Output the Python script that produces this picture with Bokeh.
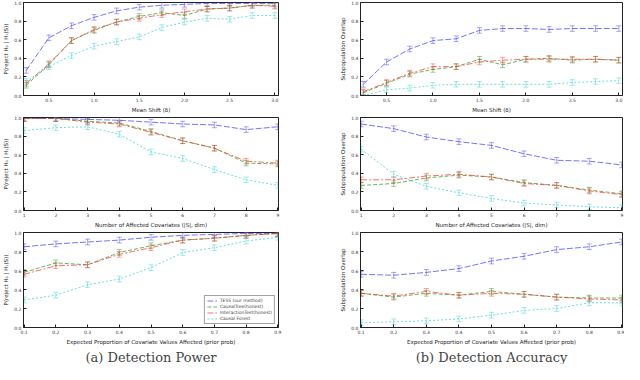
from bokeh.plotting import figure
from bokeh.layouts import column, row
from bokeh.models import ColumnDataSource, Whisker, TeeHead, Legend, LegendItem, FixedTicker, Range1d
from bokeh.embed import file_html
from bokeh.resources import INLINE

# ---------------- data ----------------
SHIFT = [0.25, 0.5, 0.75, 1.0, 1.25, 1.5, 1.75, 2.0, 2.25, 2.5, 2.75, 3.0]
NCOV = [1, 2, 3, 4, 5, 6, 7, 8, 9]
PROP = [0.1, 0.2, 0.3, 0.4, 0.5, 0.6, 0.7, 0.8, 0.9]

SERIES = ["TESS (our method)", "CausalTree(honest)", "InteractionTest(honest)", "Causal Forest"]

power_shift_ours = [0.27, 0.62, 0.75, 0.84, 0.91, 0.95, 0.97, 0.98, 0.99, 0.99, 0.99, 0.99]
power_shift_ctree = [0.11, 0.33, 0.59, 0.70, 0.79, 0.85, 0.89, 0.86, 0.93, 0.94, 0.97, 0.97]
power_shift_itest = [0.13, 0.34, 0.59, 0.71, 0.79, 0.83, 0.87, 0.90, 0.93, 0.94, 0.97, 0.96]
power_shift_cforest = [0.15, 0.31, 0.43, 0.53, 0.58, 0.63, 0.73, 0.79, 0.83, 0.82, 0.86, 0.86]

acc_shift_ours = [0.12, 0.36, 0.50, 0.59, 0.61, 0.70, 0.72, 0.72, 0.71, 0.72, 0.72, 0.72]
acc_shift_ctree = [0.03, 0.13, 0.23, 0.28, 0.31, 0.39, 0.33, 0.39, 0.40, 0.38, 0.39, 0.38]
acc_shift_itest = [0.04, 0.14, 0.24, 0.31, 0.31, 0.36, 0.38, 0.39, 0.39, 0.39, 0.39, 0.38]
acc_shift_cforest = [0.00, 0.06, 0.08, 0.11, 0.12, 0.12, 0.12, 0.12, 0.12, 0.14, 0.15, 0.16]

power_ncov_ours = [0.99, 0.99, 0.98, 0.97, 0.95, 0.93, 0.92, 0.87, 0.90]
power_ncov_ctree = [0.99, 0.99, 0.96, 0.94, 0.85, 0.75, 0.67, 0.51, 0.50]
power_ncov_itest = [0.99, 0.99, 0.95, 0.93, 0.84, 0.75, 0.67, 0.53, 0.51]
power_ncov_cforest = [0.86, 0.89, 0.90, 0.82, 0.63, 0.56, 0.44, 0.33, 0.27]

acc_ncov_ours = [0.93, 0.88, 0.79, 0.74, 0.70, 0.61, 0.54, 0.53, 0.49]
acc_ncov_ctree = [0.27, 0.29, 0.35, 0.38, 0.36, 0.30, 0.27, 0.22, 0.18]
acc_ncov_itest = [0.33, 0.33, 0.37, 0.39, 0.36, 0.29, 0.27, 0.21, 0.17]
acc_ncov_cforest = [0.66, 0.39, 0.26, 0.19, 0.13, 0.08, 0.06, 0.04, 0.03]

power_prop_ours = [0.85, 0.88, 0.90, 0.92, 0.95, 0.97, 0.98, 0.99, 0.99]
power_prop_ctree = [0.58, 0.68, 0.66, 0.79, 0.86, 0.92, 0.94, 0.97, 0.99]
power_prop_itest = [0.56, 0.65, 0.66, 0.77, 0.84, 0.92, 0.94, 0.97, 0.99]
power_prop_cforest = [0.29, 0.34, 0.45, 0.51, 0.63, 0.79, 0.84, 0.91, 0.95]

acc_prop_ours = [0.56, 0.55, 0.58, 0.62, 0.70, 0.75, 0.82, 0.85, 0.90]
acc_prop_ctree = [0.36, 0.32, 0.36, 0.34, 0.38, 0.35, 0.32, 0.31, 0.31]
acc_prop_itest = [0.36, 0.33, 0.38, 0.34, 0.36, 0.35, 0.32, 0.30, 0.29]
acc_prop_cforest = [0.05, 0.06, 0.07, 0.09, 0.13, 0.18, 0.20, 0.26, 0.26]

# typical half-width of the error bars per series (ours, ctree, itest, cforest)
ERR = [0.03, 0.03, 0.03, 0.03]

COLORS = ["#3b3bff", "#1f9a1f", "#ff3030", "#30d0d0"]
DASHES = ["6 2", "4 2", "6 2 2 2", "2 2"]

Y_TICKS = [0.0, 0.2, 0.4, 0.6, 0.8, 1.0]
SHIFT_TICKS = [0.5, 1.0, 1.5, 2.0, 2.5, 3.0]

FONT = "DejaVu Sans"


def make_panel(x, ys, xlabel, ylabel, xticks, xrange, width, height,
               left, right, bottom, top, caption=None, legend=False):
    p = figure(width=width, height=height, output_backend="svg", toolbar_location=None,
               x_range=Range1d(*xrange), y_range=Range1d(0, 1),
               min_border_left=left, min_border_right=right,
               min_border_bottom=bottom, min_border_top=top,
               title=caption, title_location="below" if caption else "above")
    p.xgrid.visible = False
    p.ygrid.visible = False
    p.outline_line_color = "#222222"
    p.outline_line_alpha = 1
    p.background_fill_color = "white"
    p.border_fill_color = "white"
    for ax in (p.xaxis[0], p.yaxis[0]):
        ax.axis_line_color = "#222222"
        ax.major_tick_in = 3
        ax.major_tick_out = 0
        ax.minor_tick_line_color = None
        ax.major_tick_line_color = "#222222"
        ax.major_label_text_font = FONT
        ax.major_label_text_font_size = "4.5px"
        ax.major_label_text_color = "#333333"
        ax.axis_label_text_font = FONT
        ax.axis_label_text_font_size = "5.5px"
        ax.axis_label_text_font_style = "normal"
        ax.axis_label_text_color = "#222222"
        ax.major_label_standoff = 2
        ax.axis_label_standoff = 2
    p.xaxis.axis_label = xlabel
    p.yaxis.axis_label = ylabel
    p.xaxis.ticker = FixedTicker(ticks=xticks)
    p.yaxis.ticker = FixedTicker(ticks=Y_TICKS)
    p.xaxis.major_label_overrides = {t: ("%g" % t if isinstance(t, int) else "%.1f" % t) for t in xticks}
    p.yaxis.major_label_overrides = {t: "%.1f" % t for t in Y_TICKS}

    items = []
    for i, yv in enumerate(ys):
        lo = [v - ERR[i] for v in yv]
        hi = [min(v + ERR[i], 1.0) for v in yv]
        src = ColumnDataSource(dict(x=x, y=yv, lo=lo, hi=hi))
        r = p.line("x", "y", source=src, line_color=COLORS[i], line_width=1.0,
                   line_dash=DASHES[i], line_alpha=0.7)
        w = Whisker(base="x", lower="lo", upper="hi", source=src,
                    line_color=COLORS[i], line_alpha=0.45, line_width=1,
                    upper_head=TeeHead(size=5, line_color=COLORS[i], line_alpha=0.45),
                    lower_head=TeeHead(size=5, line_color=COLORS[i], line_alpha=0.45))
        p.add_layout(w)
        items.append(LegendItem(label=SERIES[i], renderers=[r]))

    if legend:
        lg = Legend(items=items, location="bottom_right",
                    label_text_font=FONT, label_text_font_size="4.5px",
                    glyph_width=10, glyph_height=5, label_height=5,
                    spacing=1, padding=2, margin=3, label_standoff=3,
                    border_line_color="#444444", border_line_width=0.8,
                    background_fill_alpha=1)
        p.add_layout(lg, "center")

    if caption:
        p.title.text_font = "DejaVu Serif"
        p.title.text_font_size = "13px"
        p.title.text_font_style = "normal"
        p.title.align = "center"
        p.title.standoff = 0
        p.title.offset = 0
    return p


LW, RW = 318, 306
H1, H2, H3 = 115, 115, 134
LB, LR = 16, 40
RB, RR = 42, 2

YL_POWER = "P(reject H\u2080 | H\u2081(S))"
YL_ACC = "Subpopulation Overlap"
XL_SHIFT = "Mean Shift (\u03b4)"
XL_NCOV = "Number of Affected Covariates (|S|, dim)"
XL_PROP = "Expected Proportion of Covariate Values Affected (prior prob)"

p1 = make_panel(SHIFT, [power_shift_ours, power_shift_ctree, power_shift_itest, power_shift_cforest],
                XL_SHIFT, YL_POWER, SHIFT_TICKS, (0.22, 3.04), LW, H1, LB, LR, 20, 2)
p2 = make_panel(SHIFT, [acc_shift_ours, acc_shift_ctree, acc_shift_itest, acc_shift_cforest],
                XL_SHIFT, YL_ACC, SHIFT_TICKS, (0.22, 3.04), RW, H1, RB, RR, 20, 2)
p3 = make_panel(NCOV, [power_ncov_ours, power_ncov_ctree, power_ncov_itest, power_ncov_cforest],
                XL_NCOV, YL_POWER, NCOV, (0.98, 9.02), LW, H2, LB, LR, 20, 2)
p4 = make_panel(NCOV, [acc_ncov_ours, acc_ncov_ctree, acc_ncov_itest, acc_ncov_cforest],
                XL_NCOV, YL_ACC, NCOV, (0.98, 9.02), RW, H2, RB, RR, 20, 2)
p5 = make_panel(PROP, [power_prop_ours, power_prop_ctree, power_prop_itest, power_prop_cforest],
                XL_PROP, YL_POWER, PROP, (0.098, 0.902), LW, H3, LB, LR, 34, 2,
                caption="(a) Detection Power", legend=True)
p6 = make_panel(PROP, [acc_prop_ours, acc_prop_ctree, acc_prop_itest, acc_prop_cforest],
                XL_PROP, YL_ACC, PROP, (0.098, 0.902), RW, H3, RB, RR, 34, 2,
                caption="(b) Detection Accuracy")

layout = column(row(p1, p2, spacing=0), row(p3, p4, spacing=0), row(p5, p6, spacing=0), spacing=0)

open("out.html", "w").write(file_html(layout, INLINE))
